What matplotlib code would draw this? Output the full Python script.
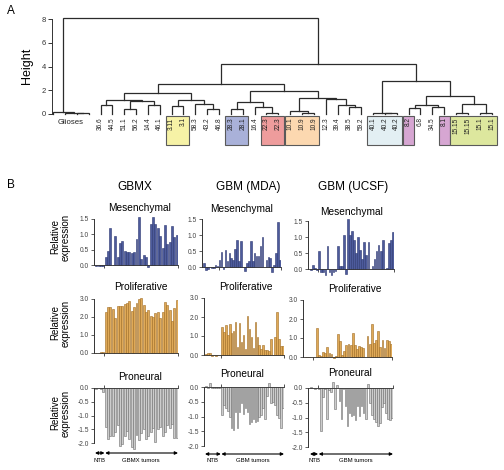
import matplotlib
matplotlib.use('Agg')
import matplotlib.pyplot as plt
from matplotlib.patches import Rectangle
from matplotlib.transforms import blended_transform_factory
import numpy as np

plt.rcParams['font.family'] = ['Liberation Sans', 'DejaVu Sans']

W, H = 504, 470
fig = plt.figure(figsize=(W / 100, H / 100), dpi=100)

# ---------------- data : dendrogram ----------------
leaf_labels = ['', '', '', '', '36.6', '44.5', '51.1', '56.2', '14.4', '46.1',
               '3.11', '3.1', '58.3', '43.2', '46.8', '28.3', '28.1', '16.4',
               '22.3', '22.3', '10.1', '10.9', '10.9', '12.3', '39.4', '38.5',
               '59.2', '40.1', '40.2', '40.2', '8.2', '6.8', '34.5', '8.1',
               '15.15', '15.15', '15.1', '15.1']
glioses_leaves = [0, 1, 2, 3]
glioses_label = 'Glioses'
# (node name, child a, child b, merge height)
merges = [
    ('g1', 2, 3, 0.05), ('g2', 1, 'g1', 0.1), ('glio', 0, 'g2', 0.2),
    ('a', 4, 5, 0.75), ('b', 6, 7, 0.45), ('c', 8, 9, 0.75),
    ('bc', 'b', 'c', 1.1), ('abc', 'a', 'bc', 1.2),
    ('d', 10, 11, 0.67), ('e', 13, 14, 0.45), ('f', 12, 'e', 0.85),
    ('df', 'd', 'f', 1.2), ('l1', 'abc', 'df', 1.77),
    ('g28', 15, 16, 0.42), ('h22', 18, 19, 0.05), ('i', 17, 'h22', 0.62),
    ('j', 'g28', 'i', 1.05),
    ('k10', 21, 22, 0.05), ('k', 20, 'k10', 0.25),
    ('m', 25, 26, 0.57), ('n', 24, 'm', 0.75), ('o', 23, 'n', 1.25),
    ('p', 'k', 'o', 1.33), ('q', 'j', 'p', 1.94), ('l', 'l1', 'q', 2.5),
    ('r40', 28, 29, 0.05), ('r', 27, 'r40', 0.1),
    ('s1', 30, 31, 0.5), ('s2', 32, 33, 0.6), ('s', 's1', 's2', 0.75),
    ('t1', 34, 35, 0.05), ('t2', 36, 37, 0.05), ('t', 't1', 't2', 0.85),
    ('u', 's', 't', 1.5), ('v', 'r', 'u', 2.8), ('w', 'l', 'v', 4.2),
    ('root', 'glio', 'w', 8.1),
]
# highlighted groups: (first leaf, last leaf, colour)
boxes = [(10, 11, '#f6f2a6'), (15, 16, '#a9b1d9'), (18, 19, '#ee9c9c'),
         (20, 22, '#fcd8b0'), (27, 29, '#e3eff3'), (30, 30, '#d6a6d2'),
         (33, 33, '#d6a6d2'), (34, 37, '#dde79e')]
height_ticks = [0, 2, 4, 6, 8]

# ---------------- data : bar panels ----------------
gbmx_mes_ntb = [-0.03, -0.03, -0.04, -0.02]
gbmx_mes_tum = [0.25, 0.45, 1.2, 0.0, 0.95, 0.25, 0.72, 0.78, 0.45, 0.42,
                0.42, 0.38, 0.42, 0.85, 1.57, 0.2, 0.33, 0.25, -0.06, 1.33,
                1.57, 1.35, 1.2, 0.95, 0.55, 1.3, 0.7, 0.75, 1.28, 0.92, 0.98]
gbmx_pro_ntb = [0.02, 0.02, 0.03, 0.05]
gbmx_pro_tum = [2.29, 2.57, 2.53, 2.44, 1.96, 2.63, 2.63, 2.6, 2.7, 2.76,
                2.89, 2.33, 2.57, 2.76, 3.0, 3.07, 2.66, 2.29, 2.38, 2.07,
                2.01, 2.2, 2.29, 1.92, 2.25, 2.85, 2.66, 2.38, 1.77, 2.5, 2.94]
gbmx_pn_ntb = [-0.03, 0.0, -0.02, -0.15]
gbmx_pn_tum = [-1.42, -1.84, -1.75, -1.75, -1.6, -1.35, -2.1, -2.05, -1.75, -1.55,
               -1.85, -2.15, -2.2, -1.7, -1.9, -1.65, -1.5, -1.85, -1.75, -1.6,
               -1.45, -1.95, -1.5, -1.4, -1.75, -1.6, -1.35, -1.45, -1.3, -1.8, -1.8]

mda_mes_ntb = [0.12, -0.1, -0.05, 0.0, -0.03, -0.02, 0.05, 0.02]
mda_mes_tum = [0.22, 0.47, -0.05, 0.52, 0.2, 0.45, 0.27, 0.22, 0.55, 0.85,
               0.2, 0.8, 0.0, -0.12, 0.12, 0.18, 0.8, 0.2, 0.45, 0.35,
               0.35, 0.65, 0.95, 0.0, 0.22, 0.3, 0.28, -0.15, 0.05, 0.45,
               1.4, 0.22]
mda_pro_ntb = [0.05, 0.1, 0.12, -0.05, 0.0, -0.04, 0.0, 0.0]
mda_pro_tum = [1.45, 1.2, 1.6, 1.05, 1.65, 1.15, 1.25, 1.75, 0.4, 1.7,
               0.7, 1.05, 0.3, 2.05, 1.35, 0.95, 0.35, 1.75, 0.95, 0.55,
               0.3, 0.55, 0.25, 0.25, 0.2, 0.85, 0.0, 0.95, 2.25, 0.85,
               0.5, 0.45]
mda_pn_ntb = [0.05, -0.05, 0.15, -0.02, -0.02, -0.05, -0.05, -0.05]
mda_pn_tum = [-0.95, -0.6, -0.7, -0.8, -1.0, -1.4, -1.45, -0.85, -1.4, -0.85,
              -0.55, -0.9, -0.7, -0.85, -1.25, -1.2, -1.1, -1.2, -1.15, -1.0,
              -0.95, -0.7, -1.1, -0.3, 0.15, -0.55, -0.5, -0.6, -0.95, -1.05,
              -1.4, -0.7]

ucsf_mes_ntb = [-0.03, 0.12, 0.02, -0.02]
ucsf_mes_tum = [0.55, -0.1, -0.1, -0.18, 0.72, -0.1, -0.2, -0.1, -0.05, 0.72,
                0.08, 0.08, 1.05, -0.15, 1.55, 1.05, 1.2, 0.9, 0.5, 1.0,
                0.6, 0.3, 0.85, 0.45, 0.85, 0.0, 0.1, 0.3, 0.55, 0.75,
                0.55, 0.9, 0.0, 0.02, 0.8, 0.9, 1.15]
ucsf_pro_ntb = [0.0, 0.01, 0.0, 0.01]
ucsf_pro_tum = [0.02, 1.55, 0.1, 0.05, 0.25, 0.2, 0.55, 0.22, 0.15, -0.05,
                0.05, 1.2, 0.85, 0.1, 0.3, 0.65, 0.7, 0.65, 1.25, 0.65,
                0.4, 0.6, 0.55, 0.5, 0.0, 1.1, 0.7, 1.75, 0.75, 0.9,
                1.35, 0.55, 0.9, 0.45, 0.9, 0.85, 0.7]
ucsf_pn_ntb = [0.02, 0.0, -0.02, 0.0]
ucsf_pn_tum = [-0.02, -1.45, -0.3, -0.05, -1.05, -0.08, -0.15, 0.2, -0.7, 0.1,
               -0.45, -1.05, -0.05, -0.6, -1.3, -0.85, -0.95, -0.9, -1.1, -0.6,
               -0.95, -0.6, -0.85, -1.05, 0.15, -0.5, -0.9, -1.05, -1.15, -1.3,
               -1.2, -0.65, -0.5, -0.85, -1.05, -1.1, -1.0]

column_titles = ['GBMX', 'GBM (MDA)', 'GBM (UCSF)']
row_titles = ['Mesenchymal', 'Proliferative', 'Proneural']
tumor_labels = ['GBMX tumors', 'GBM tumors', 'GBM tumors']
ntb_label = 'NTB'

mes_ticks = [0.0, 0.5, 1.0, 1.5]
pro_ticks = [0.0, 1.0, 2.0, 3.0]
pn_ticks = [-2.0, -1.5, -1.0, -0.5, 0.0]

# ---------------- helpers ----------------
def px_axes(l, t, r, b):
    return fig.add_axes([l / W, 1 - b / H, (r - l) / W, (b - t) / H])


def ftext(x, y, s, **kw):
    return fig.text(x / W, 1 - y / H, s, **kw)


LINE = '#2b2b2b'

# ---------------- Panel A : dendrogram ----------------
lx0, lstep = 53.1, 11.85      # leaf pixel position
hy0, hstep = 114.0, 11.875    # height pixel scale
axl, axr, axt, axb = 52, 500, 10, 150
axd = px_axes(axl, axt, axr, axb)
axd.set_xlim((axl - lx0) / lstep, (axr - lx0) / lstep)
axd.set_ylim((hy0 - axb) / hstep, (hy0 - axt) / hstep)
for s in ['top', 'right', 'bottom']:
    axd.spines[s].set_visible(False)
axd.spines['left'].set_bounds(0, 8)
axd.spines['left'].set_color('#333333')
axd.spines['left'].set_linewidth(0.7)
axd.set_xticks([])
axd.set_yticks(height_ticks)
axd.set_yticklabels([str(v) for v in height_ticks])
axd.tick_params(axis='y', labelsize=5.5, length=3, width=0.7, pad=1.5,
                colors='#333333')
axd.patch.set_alpha(0)

pos = {i: float(i) for i in range(len(leaf_labels))}
hts = {i: 0.0 for i in range(len(leaf_labels))}
for name, a, b, h in merges:
    xa, xb = pos[a], pos[b]
    axd.plot([xa, xa, xb, xb], [hts[a], h, h, hts[b]], color=LINE, lw=0.9,
             solid_joinstyle='miter', clip_on=False)
    pos[name] = (xa + xb) / 2
    hts[name] = h

box_top, box_bot = (hy0 - 116) / hstep, (hy0 - 145) / hstep
for i0, i1, col in boxes:
    axd.add_patch(Rectangle((i0 - 0.47, box_bot), (i1 - i0) + 0.94,
                            box_top - box_bot, facecolor=col,
                            edgecolor='#5a5a5a', lw=0.8, zorder=1))

for i, lab in enumerate(leaf_labels):
    if lab:
        axd.text(i, (hy0 - 117.5) / hstep, lab, rotation=90, ha='center',
                 va='top', fontsize=4.7, color='#222222', zorder=3)
axd.text(np.mean([pos[i] for i in glioses_leaves]), (hy0 - 119) / hstep,
         glioses_label, ha='center', va='top', fontsize=5.6, color='#222222')

ftext(27, 66, 'Height', rotation=90, ha='center', va='center', fontsize=9)
ftext(11, 11, 'A', ha='center', va='center', fontsize=8.5)

# ---------------- Panel B : bar charts ----------------
ftext(11, 185, 'B', ha='center', va='center', fontsize=8.5)

styles = {
    'mes': ('#4d5b9c', '#2c3771'),
    'pro': ('#dfa957', '#a06c22'),
    'pn': ('#cccccc', '#6e6e6e'),
}


def bar_panel(axis_px, bar_l, bar_r, y0_px, ppu, ylim, ntb, tum, kind, ticks):
    vals = list(ntb) + list(tum)
    n, n0 = len(vals), len(ntb)
    pitch = (bar_r - bar_l) / n
    xl = -0.5 - (bar_l - axis_px) / pitch
    top = y0_px - ylim[1] * ppu
    bot = y0_px - ylim[0] * ppu
    ax = px_axes(axis_px, top, bar_r, bot)
    ax.patch.set_alpha(0)
    ax.set_xlim(xl, n - 0.5)
    ax.set_ylim(*ylim)
    fc, ec = styles[kind]
    ax.bar(np.arange(n), vals, width=0.84, color=fc, edgecolor=ec,
           linewidth=0.4, zorder=2)
    ax.spines['right'].set_visible(False)
    ax.spines['left'].set_bounds(min(ticks), max(ticks))
    ax.spines['left'].set_linewidth(0.7)
    ax.spines['left'].set_color('#333333')
    if kind == 'pn':
        ax.spines['bottom'].set_visible(False)
        ax.spines['top'].set_position(('data', 0))
        xs = ax.spines['top']
        ax.xaxis.set_ticks_position('top')
    else:
        ax.spines['top'].set_visible(False)
        ax.spines['bottom'].set_position(('data', 0))
        xs = ax.spines['bottom']
        ax.xaxis.set_ticks_position('bottom')
    xs.set_linewidth(0.6)
    xs.set_color('#333333')
    ax.set_xticks([n0 - 0.5, n - 0.5])
    ax.set_xticklabels(['', ''])
    ax.tick_params(axis='x', length=2.5, width=0.6, colors='#333333')
    ax.set_yticks(ticks)
    ax.set_yticklabels(['%.1f' % t for t in ticks])
    ax.tick_params(axis='y', labelsize=4.8, length=2.5, width=0.6, pad=1.2,
                   colors='#444444')
    return ax, n0, n


# column specs
cols = [
    dict(title=(135, 187), ylab=True,
         mes=(94, 95, 178, 265, 30.7, gbmx_mes_ntb, gbmx_mes_tum, (140, 208)),
         pro=(94, 95, 178, 353, 18.0, gbmx_pro_ntb, gbmx_pro_tum, (141, 287)),
         pn=(94, 95, 178, 388, 27.5, gbmx_pn_ntb, gbmx_pn_tum, (140, 377)),
         arrow_y=453),
    dict(title=(248, 187), ylab=False,
         mes=(202, 203, 281, 267, 32.0, mda_mes_ntb, mda_mes_tum, (242, 209)),
         pro=(204, 205, 284, 355, 19.0, mda_pro_ntb, mda_pro_tum, (246, 287)),
         pn=(204, 205, 284, 387, 29.5, mda_pn_ntb, mda_pn_tum, (242, 374)),
         arrow_y=454),
    dict(title=(353, 187), ylab=False,
         mes=(308, 310, 394, 269, 32.0, ucsf_mes_ntb, ucsf_mes_tum, (352, 212)),
         pro=(303, 305, 392, 357, 19.0, ucsf_pro_ntb, ucsf_pro_tum, (355, 289)),
         pn=(308, 310, 393, 388, 29.5, ucsf_pn_ntb, ucsf_pn_tum, (350, 373)),
         arrow_y=454),
]
ylims = {'mes': (-0.25, 1.6), 'pro': (-0.15, 3.1), 'pn': (-2.3, 0.25)}
tick_sets = {'mes': mes_ticks, 'pro': pro_ticks, 'pn': pn_ticks}
ylab_pos = {'mes': 237, 'pro': 323, 'pn': 413}

for ci, col in enumerate(cols):
    ftext(col['title'][0], col['title'][1], column_titles[ci], ha='center',
          va='center', fontsize=8.5)
    for ri, kind in enumerate(['mes', 'pro', 'pn']):
        a_px, bl, br, y0, ppu, ntb, tum, tpos = col[kind]
        ax, n0, n = bar_panel(a_px, bl, br, y0, ppu, ylims[kind], ntb, tum,
                              kind, tick_sets[kind])
        ftext(tpos[0], tpos[1], row_titles[ri], ha='center', va='center',
              fontsize=7.3)
        if col['ylab']:
            ftext(60, ylab_pos[kind], 'Relative\nexpression', rotation=90,
                  ha='center', va='center', fontsize=7, linespacing=1.05)
        if kind == 'pn':
            tr = blended_transform_factory(ax.transData, fig.transFigure)
            yy = 1 - col['arrow_y'] / H
            ap = dict(arrowstyle='<|-|>', lw=0.8, color='black',
                      mutation_scale=4.5, shrinkA=0, shrinkB=0)
            ax.annotate('', xy=(n0 - 0.5, yy), xytext=(-0.5, yy), xycoords=tr,
                        textcoords=tr, arrowprops=ap, annotation_clip=False)
            ax.annotate('', xy=(n - 0.5, yy), xytext=(n0 - 0.2, yy),
                        xycoords=tr, textcoords=tr, arrowprops=ap,
                        annotation_clip=False)
            ty = 1 - (col['arrow_y'] + 7) / H
            ax.text((n0 - 1) / 2, ty, ntb_label, transform=tr, ha='center',
                    va='center', fontsize=4.3)
            ax.text((n0 - 0.5 + n - 0.5) / 2, ty, tumor_labels[ci],
                    transform=tr, ha='center', va='center', fontsize=4.3)

fig.savefig('out.png', dpi=100)
